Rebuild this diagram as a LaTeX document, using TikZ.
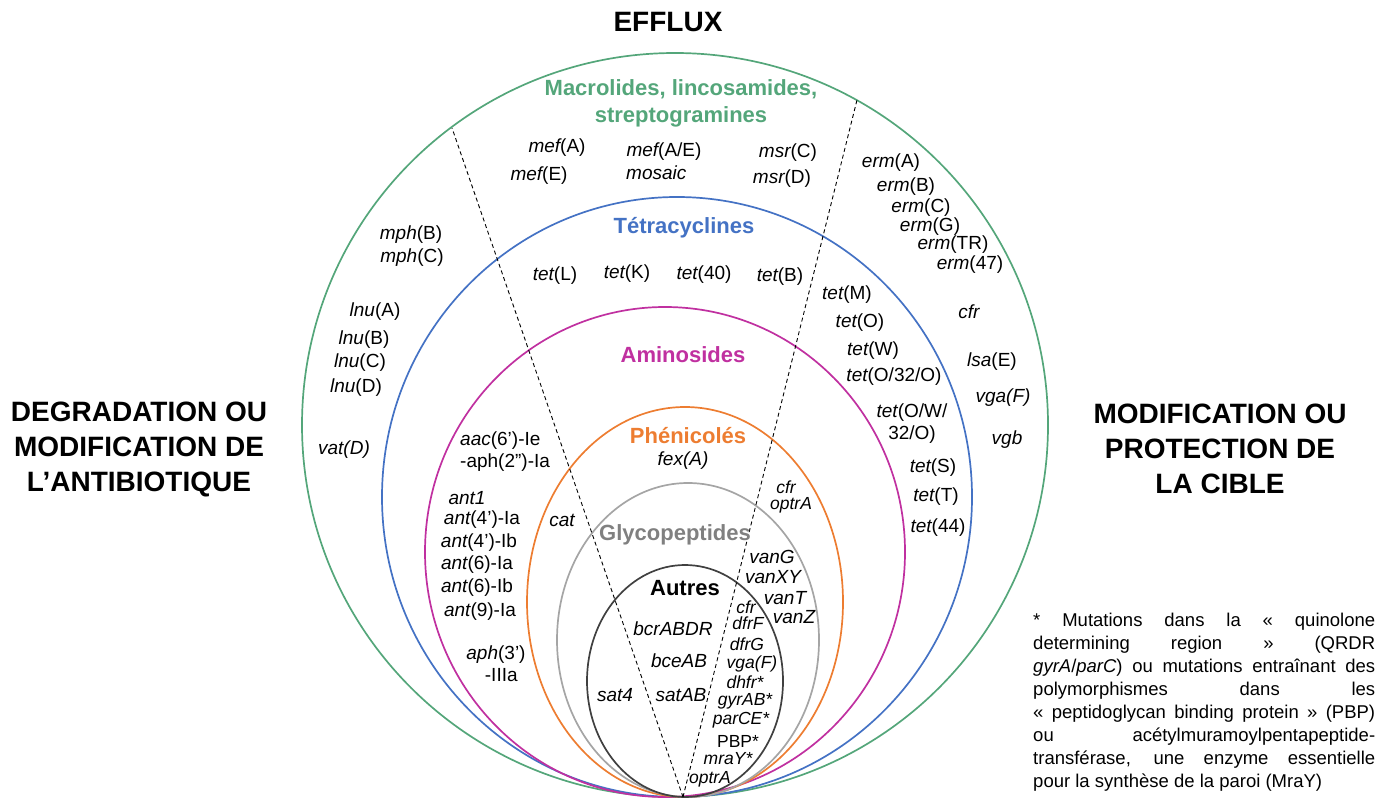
\documentclass[tikz,border=0pt]{standalone}
\usepackage{fontspec}
\setmainfont{Liberation Sans}
\usepackage{tikz}

\definecolor{cmls}{RGB}{84,166,122}
\definecolor{ctet}{RGB}{68,114,196}
\definecolor{camino}{RGB}{192,48,160}
\definecolor{cphen}{RGB}{237,125,49}
\definecolor{cglyco}{RGB}{165,165,165}
\definecolor{cglytxt}{RGB}{128,128,128}
\definecolor{cautre}{RGB}{64,64,64}

\newcommand{\gn}[1]{{\itshape #1}}

\tikzset{
  gene/.style={font=\fontsize{19}{22}\selectfont,inner sep=0pt},
  tight/.style={font=\fontsize{17.5}{20}\selectfont,inner sep=0pt},
  cls/.style={font=\fontsize{22}{27}\selectfont\bfseries,inner sep=0pt,align=center},
  head/.style={font=\fontsize{28}{35}\selectfont\bfseries,inner sep=0pt,align=center},
  ring/.style={line width=1.7pt},
  sep/.style={line width=0.9pt,dash pattern=on 4pt off 3pt}
}

\begin{document}
\begin{tikzpicture}[x=1pt,y=-1pt]
  \useasboundingbox (0,0) rectangle (1391,800);
  % nested families
  \draw[ring,cmls] (675,425) ellipse [x radius=373pt,y radius=372pt];
  \draw[ring,ctet] (677,497) ellipse [x radius=295pt,y radius=300pt];
  \draw[ring,camino] (665,552) ellipse [x radius=240pt,y radius=245pt];
  \draw[ring,cphen] (685,602) ellipse [x radius=158pt,y radius=195pt];
  \draw[ring,cglyco] (688,640) ellipse [x radius=131pt,y radius=157pt];
  \draw[ring,cautre] (685,681) ellipse [x radius=98pt,y radius=116pt];
  % sectors
  \coordinate(apex) at (683,797);
  \coordinate(effl) at (452,128);
  \coordinate(effr) at (857,100);
  \draw[sep] (apex) -- (effl);
  \draw[sep] (apex) -- (effr);

  % mechanisms
  \node(efflux)[head] at (668,22) {EFFLUX};
  \node(degrad)[head] at (139,449) {DEGRADATION OU\\MODIFICATION DE\\L’ANTIBIOTIQUE};
  \node(cible)[head] at (1220,449) {MODIFICATION OU\\PROTECTION DE\\LA CIBLE};

  % families
  \node(mls)[cls,text=cmls] at (681,103) {Macrolides, lincosamides,\\streptogramines};
  \node(tetra)[cls,text=ctet] at (684,228) {Tétracyclines};
  \node(amino)[cls,text=camino] at (683,355) {Aminosides};
  \node(phen)[cls,text=cphen] at (688,436) {Phénicolés};
  \node(glyco)[cls,text=cglytxt] at (675,535) {Glycopeptides};
  \node(autre)[cls,text=black] at (685,588) {Autres};

  % macrolides
  \node(mefA)[gene] at (557,148) {\gn{mef}(A)};
  \node(mefE)[gene] at (539,176) {\gn{mef}(E)};
  \node(mefAE)[gene] at (664,152) {\gn{mef}(A/E)};
  \node(mosaic)[gene,anchor=west] at (626,173) {\gn{mosaic}};
  \node(msrC)[gene] at (788,153) {\gn{msr}(C)};
  \node(msrD)[gene] at (782,179) {\gn{msr}(D)};
  \node(mphB)[gene] at (411,235) {\gn{mph}(B)};
  \node(mphC)[gene] at (412,258) {\gn{mph}(C)};
  \node(lnuA)[gene] at (375,312) {\gn{lnu}(A)};
  \node(lnuB)[gene] at (364,340) {\gn{lnu}(B)};
  \node(lnuC)[gene] at (360,363) {\gn{lnu}(C)};
  \node(lnuD)[gene] at (356,388) {\gn{lnu}(D)};
  \node(vatD)[gene] at (344,450) {\gn{vat(D)}};
  \node(ermA)[gene] at (891,163) {\gn{erm}(A)};
  \node(ermB)[gene] at (906,187) {\gn{erm}(B)};
  \node(ermC)[gene] at (921,208) {\gn{erm}(C)};
  \node(ermG)[gene] at (930,227) {\gn{erm}(G)};
  \node(ermTR)[gene] at (953,245) {\gn{erm}(TR)};
  \node(erm47)[gene] at (970,265) {\gn{erm}(47)};
  \node(cfrA)[gene] at (969,312) {\gn{cfr}};
  \node(lsaE)[gene] at (992,362) {\gn{lsa}(E)};
  \node(vgaA)[gene] at (1003,398) {\gn{vga(F)}};
  \node(vgb)[gene] at (1007,440) {\gn{vgb}};

  % tetracyclines
  \node(tetL)[gene] at (555,276) {\gn{tet}(L)};
  \node(tetK)[gene] at (627,274) {\gn{tet}(K)};
  \node(tet40)[gene] at (704,275) {\gn{tet}(40)};
  \node(tetB)[gene] at (780,277) {\gn{tet}(B)};
  \node(tetM)[gene] at (847,295) {\gn{tet}(M)};
  \node(tetO)[gene] at (860,323) {\gn{tet}(O)};
  \node(tetW)[gene] at (873,351) {\gn{tet}(W)};
  \node(tetO32)[gene] at (894,377) {\gn{tet}(O/32/O)};
  \node(tetOW)[gene,align=center] at (912,424) {\gn{tet}(O/W/\\32/O)};
  \node(tetS)[gene] at (933,468) {\gn{tet}(S)};
  \node(tetT)[gene] at (936,497) {\gn{tet}(T)};
  \node(tet44)[gene] at (938,528) {\gn{tet}(44)};

  % aminosides
  \node(aac)[gene,align=left,anchor=west] at (460,452) {\gn{aac}(6’)-Ie\\-aph(2”)-Ia};
  \node(ant1)[gene] at (467,498) {\gn{ant1}};
  \node(ant4a)[gene] at (482,520) {\gn{ant}(4’)-Ia};
  \node(ant4b)[gene] at (479,543) {\gn{ant}(4’)-Ib};
  \node(ant6a)[gene] at (477,565) {\gn{ant}(6)-Ia};
  \node(ant6b)[gene] at (477,588) {\gn{ant}(6)-Ib};
  \node(ant9a)[gene] at (480,612) {\gn{ant}(9)-Ia};
  \node(aph3)[gene,align=center] at (496,664) {\gn{aph}(3’)\\\ \ -IIIa};

  % phenicoles
  \node(fexA)[gene] at (683,461) {\gn{fex(A)}};
  \node(cat)[gene] at (562,520) {\gn{cat}};
  \node(cfrB)[tight] at (786,487) {\gn{cfr}};
  \node(optrB)[tight] at (791,505) {\gn{optrA}};

  % glycopeptides
  \node(vanG)[gene] at (772,557) {\gn{vanG}};
  \node(vanXY)[gene] at (773,577) {\gn{vanXY}};
  \node(vanT)[gene] at (785,598) {\gn{vanT}};
  \node(vanZ)[gene] at (794,617) {\gn{vanZ}};

  % autres
  \node(bcr)[gene] at (673,629) {\gn{bcrABDR}};
  \node(bce)[gene] at (679,661) {\gn{bceAB}};
  \node(satAB)[gene] at (681,695) {\gn{satAB}};
  \node(sat4)[gene] at (615,695) {\gn{sat4}};
  \node(cfrC)[tight] at (746,607) {\gn{cfr}};
  \node(dfrF)[tight] at (748,623) {\gn{dfrF}};
  \node(dfrG)[tight] at (747,644) {\gn{dfrG}};
  \node(vgaB)[tight] at (752,664) {\gn{vga(F)}};
  \node(dhfr)[tight] at (745,682) {\gn{dhfr*}};
  \node(gyrAB)[tight] at (745,701) {\gn{gyrAB*}};
  \node(parCE)[tight] at (741,720) {\gn{parCE*}};
  \node(pbp)[tight] at (738,741) {PBP*};
  \node(mraY)[tight] at (728,759) {\gn{mraY*}};
  \node(optrC)[tight] at (710,779) {\gn{optrA}};

  % footnote
  \node(note)[inner sep=0pt,anchor=north west,text width=342pt,align=justify,
    font=\fontsize{18.5}{23}\selectfont] at (1033,613)
    {* Mutations dans la « quinolone\linebreak
     determining region » (QRDR\linebreak
     \gn{gyrA}/\gn{parC}) ou mutations entraînant des\linebreak
     polymorphismes dans les\linebreak
     « peptidoglycan binding protein » (PBP)\linebreak
     ou acétylmuramoylpentapeptide-\linebreak
     transférase, une enzyme essentielle\linebreak
     pour la synthèse de la paroi (MraY)};
\end{tikzpicture}
\end{document}
